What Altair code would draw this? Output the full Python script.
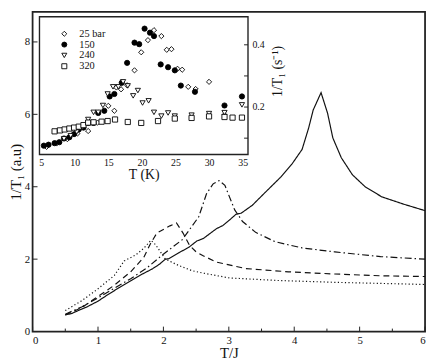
import altair as alt
import pandas as pd

FONT = "Liberation Serif, Times New Roman, serif"

# ---------------- main panel: 1/T1 (a.u) vs T/J ----------------
curve_names = ["solid", "dashdot", "dashed", "dotted"]
dash_patterns = [[1, 0], [7, 3, 1.5, 3], [6, 4], [1.2, 2.4]]

solid_x = [0.5, 0.6, 0.71, 0.83, 1.0, 1.16, 1.33, 1.51, 1.68, 1.83, 1.94, 2.03, 2.08, 2.24,
           2.39, 2.51, 2.61, 2.81, 2.91, 3.01, 3.11, 3.19, 3.36, 3.56, 3.79, 3.97, 4.12, 4.22,
           4.29, 4.41, 4.51, 4.59, 4.72, 4.89, 5.09, 5.34, 5.67, 6.0]
solid_y = [0.46, 0.50, 0.59, 0.68, 0.84, 1.03, 1.22, 1.41, 1.59, 1.73, 1.86, 2.0, 2.01, 2.18,
           2.33, 2.50, 2.57, 2.84, 2.93, 3.08, 3.24, 3.27, 3.49, 3.85, 4.26, 4.64, 5.03, 5.62,
           6.12, 6.60, 6.03, 5.35, 4.80, 4.33, 3.99, 3.72, 3.52, 3.34]

dashdot_x = [0.5, 0.75, 1.0, 1.25, 1.5, 1.75, 1.98, 2.29, 2.54, 2.66, 2.76, 2.85, 2.94, 3.01,
             3.09, 3.21, 3.41, 3.71, 4.12, 4.62, 5.32, 6.0]
dashdot_y = [0.48, 0.68, 0.93, 1.2, 1.46, 1.76, 2.11, 2.54, 3.17, 3.81, 4.08, 4.17, 4.04, 3.72,
             3.36, 3.04, 2.74, 2.48, 2.31, 2.20, 2.07, 2.00]

dashed_x = [0.5, 0.75, 1.0, 1.25, 1.5, 1.7, 1.8, 1.9, 2.0, 2.1, 2.2, 2.3, 2.4, 2.5, 2.6, 2.81,
            3.26, 3.91, 4.62, 5.32, 6.0]
dashed_y = [0.46, 0.66, 0.97, 1.28, 1.65, 2.05, 2.42, 2.72, 2.82, 2.92, 3.0, 2.72, 2.38, 2.2,
            2.1, 1.92, 1.74, 1.65, 1.59, 1.54, 1.52]

dotted_x = [0.5, 0.75, 1.0, 1.25, 1.4, 1.58, 1.7, 1.81, 1.88, 2.03, 2.24, 2.44, 2.59, 3.01,
            3.76, 4.62, 5.32, 6.0]
dotted_y = [0.58, 0.85, 1.18, 1.55, 1.95, 2.12, 2.3, 2.52, 2.40, 2.0, 1.82, 1.68, 1.62, 1.48,
            1.41, 1.36, 1.33, 1.30]

x_major = [0, 1, 2, 3, 4, 5, 6]
x_minor = [0.5, 1.5, 2.5, 3.5, 4.5, 5.5]
y_major = [0, 2, 4, 6, 8]

# ---------------- inset: 1/T1 (s^-1) vs T (K) ----------------
series_names = ["25 bar", "150", "240", "320"]
series_shapes = ["diamond", "circle", "triangle-down", "square"]
series_fills = ["white", "black", "white", "white"]
series_strokes = ["black", "black", "black", "black"]

t_25 = [5.8, 7.3, 8.9, 10.4, 12.0, 13.4, 15.0, 15.9, 16.2, 16.9, 17.8, 18.9, 19.9, 20.9, 21.8,
        22.9, 23.7, 24.4, 25.3, 26.0, 26.9, 28.0, 30.0, 32.3]
r_25 = [0.072, 0.083, 0.097, 0.115, 0.123, 0.150, 0.204, 0.188, 0.263, 0.257, 0.270, 0.318,
        0.376, 0.415, 0.447, 0.428, 0.384, 0.386, 0.323, 0.320, 0.265, 0.258, 0.281, 0.175]

t_150 = [5.4, 6.1, 7.0, 7.7, 8.4, 9.2, 9.9, 10.6, 11.3, 12.0, 12.8, 13.5, 14.4, 15.2, 15.9,
         17.0, 17.8, 18.9, 19.6, 20.4, 21.2, 21.8, 22.8, 23.9, 24.9, 25.8, 27.9, 32.3, 34.9]
r_150 = [0.076, 0.079, 0.084, 0.087, 0.099, 0.103, 0.113, 0.128, 0.134, 0.149, 0.149, 0.181,
         0.188, 0.234, 0.242, 0.278, 0.342, 0.407, 0.402, 0.452, 0.439, 0.428, 0.337, 0.328,
         0.318, 0.269, 0.249, 0.205, 0.234]

t_240 = [8.4, 9.4, 10.3, 11.2, 12.0, 12.8, 13.5, 14.2, 14.9, 15.7, 16.5, 17.2, 17.9, 18.7,
         19.4, 20.1, 21.0, 21.8, 22.9, 23.9, 24.9, 27.4, 30.0, 32.3, 34.9]
r_240 = [0.098, 0.108, 0.120, 0.135, 0.160, 0.183, 0.183, 0.205, 0.242, 0.265, 0.265, 0.281,
         0.268, 0.236, 0.253, 0.213, 0.220, 0.183, 0.171, 0.181, 0.171, 0.174, 0.179, 0.182,
         0.207]

t_320 = [7.0, 7.8, 8.5, 9.2, 9.9, 10.6, 11.3, 12.0, 12.8, 14.0, 14.9, 16.0, 17.9, 19.9, 22.4,
         24.9, 27.4, 30.0, 32.3, 33.5, 34.9]
r_320 = [0.122, 0.125, 0.128, 0.131, 0.134, 0.137, 0.142, 0.150, 0.151, 0.153, 0.155, 0.160,
         0.152, 0.149, 0.155, 0.163, 0.165, 0.170, 0.168, 0.166, 0.166]

inset_t_domain = [4.75, 35.8]
inset_r_domain = [0.0475, 0.49]
inset_r_labels = [0.2, 0.4]
inset_r_ticks = [0.1, 0.2, 0.3, 0.4]
inset_t_labels = [5, 10, 15, 20, 25, 30, 35]

# ---------------- layout ----------------
W, H = 399, 325
INSET_X = [7, 219]      # pixel range of inset inside plot area
INSET_Y = [145, 5]

rows = []
for name, xs, ys in zip(curve_names, [solid_x, dashdot_x, dashed_x, dotted_x],
                        [solid_y, dashdot_y, dashed_y, dotted_y]):
    for i, (a, b) in enumerate(zip(xs, ys)):
        rows.append({"curve": name, "i": i, "x": a, "y": b})
lines_df = pd.DataFrame(rows)

prow = []
for name, ts, rs in zip(series_names, [t_25, t_150, t_240, t_320], [r_25, r_150, r_240, r_320]):
    for a, b in zip(ts, rs):
        prow.append({"series": name, "T": a, "R": b})
pts_df = pd.DataFrame(prow)

main_x = alt.Scale(domain=[0, 6], nice=False, zero=False)
main_y = alt.Scale(domain=[0, 8.83], nice=False, zero=False)

x_axis = alt.Axis(values=x_major, format="d", ticks=False, domain=False, grid=False,
                  labelFont=FONT, labelFontSize=11, labelPadding=3, labelColor="#111",
                  title="T/J", titleFont=FONT, titleFontSize=15, titlePadding=0,
                  titleColor="#111", titleFontWeight="normal", orient="bottom")
y_axis = alt.Axis(values=y_major, format="d", ticks=False, domain=False, grid=False,
                  labelFont=FONT, labelFontSize=11, labelPadding=3, labelColor="#111",
                  title="1/T\u2081 (a.u)", titleFont=FONT, titleFontSize=15, titlePadding=1,
                  titleColor="#111", titleFontWeight="normal", orient="left")

lines = alt.Chart(lines_df).mark_line(color="#111", strokeWidth=1.2).encode(
    x=alt.X("x:Q", scale=main_x, axis=x_axis),
    y=alt.Y("y:Q", scale=main_y, axis=y_axis),
    strokeDash=alt.StrokeDash("curve:N", scale=alt.Scale(domain=curve_names, range=dash_patterns),
                              legend=None),
    order="i:Q",
)

xt_major = alt.Chart(pd.DataFrame({"x": x_major})).mark_rule(color="#222", strokeWidth=1).encode(
    x=alt.X("x:Q", scale=main_x, axis=x_axis), y=alt.value(H), y2=alt.value(H - 5))
xt_minor = alt.Chart(pd.DataFrame({"x": x_minor})).mark_rule(color="#222", strokeWidth=1).encode(
    x=alt.X("x:Q", scale=main_x, axis=x_axis), y=alt.value(H), y2=alt.value(H - 3))
yt_major = alt.Chart(pd.DataFrame({"y": y_major})).mark_rule(color="#222", strokeWidth=1).encode(
    y=alt.Y("y:Q", scale=main_y, axis=y_axis), x=alt.value(0), x2=alt.value(5))

main = alt.layer(lines, xt_major, xt_minor, yt_major)

ins_x = alt.Scale(domain=inset_t_domain, range=INSET_X, nice=False, zero=False)
ins_y = alt.Scale(domain=inset_r_domain, range=INSET_Y, nice=False, zero=False)

ins_x_axis = alt.Axis(values=inset_t_labels, format="d", ticks=False, domain=False, grid=False,
                      orient="bottom", offset=INSET_Y[0] - H, labelFont=FONT, labelFontSize=10,
                      labelPadding=3, labelColor="#111", title="T (K)", titleFont=FONT,
                      titleFontSize=14, titlePadding=0, titleColor="#111",
                      titleFontWeight="normal")
ins_y_axis = alt.Axis(values=inset_r_labels, format=".1f", ticks=False, domain=False, grid=False,
                      orient="right", offset=INSET_X[1] - W, labelFont=FONT, labelFontSize=10,
                      labelPadding=4, labelColor="#111", title="1/T\u2081 (s\u207b\u00b9)",
                      titleFont=FONT, titleFontSize=14, titleAngle=270, titleX=30, titleY=60,
                      titleAlign="center", titleBaseline="middle", titleColor="#111",
                      titleFontWeight="normal")

frame_df = pd.DataFrame({"T": [inset_t_domain[0]], "T2": [inset_t_domain[1]],
                         "R": [inset_r_domain[0]], "R2": [inset_r_domain[1]]})
frame = alt.Chart(frame_df).mark_rect(fill="white", stroke="#222", strokeWidth=1.4).encode(
    x=alt.X("T:Q", scale=ins_x, axis=ins_x_axis), x2="T2:Q",
    y=alt.Y("R:Q", scale=ins_y, axis=ins_y_axis), y2="R2:Q")

ins_ticks = alt.Chart(pd.DataFrame({"R": inset_r_ticks})).mark_rule(color="#222", strokeWidth=1).encode(
    y=alt.Y("R:Q", scale=ins_y, axis=ins_y_axis),
    x=alt.value(INSET_X[1]), x2=alt.value(INSET_X[1] - 4))

legend = alt.Legend(orient="none", legendX=27, legendY=17, title=None, labelFontSize=10.5,
                    labelFont=FONT, labelColor="#111", symbolSize=26, symbolStrokeColor="black",
                    symbolStrokeWidth=0.9, rowPadding=0, labelOffset=10, padding=0)

points = alt.Chart(pts_df).mark_point(filled=True, strokeWidth=0.9, size=28, opacity=1).encode(
    x=alt.X("T:Q", scale=ins_x, axis=ins_x_axis),
    y=alt.Y("R:Q", scale=ins_y, axis=ins_y_axis),
    shape=alt.Shape("series:N", scale=alt.Scale(domain=series_names, range=series_shapes),
                    legend=legend),
    fill=alt.Fill("series:N", scale=alt.Scale(domain=series_names, range=series_fills),
                  legend=legend),
    stroke=alt.Stroke("series:N", scale=alt.Scale(domain=series_names, range=series_strokes),
                      legend=legend),
)

inset = alt.layer(frame, ins_ticks, points)

chart = alt.layer(main, inset).resolve_scale(x="independent", y="independent").properties(
    width=W, height=H,
    padding={"left": 25, "top": 1, "right": 3, "bottom": 28},
    autosize=alt.AutoSizeParams(type="none"),
).configure_view(stroke="#222", strokeWidth=1.8).configure_axis(
    labelFont=FONT, titleFont=FONT, grid=False
).configure_legend(labelFont=FONT)

chart.save("out.html", embed_options={"renderer": "svg", "actions": False})
